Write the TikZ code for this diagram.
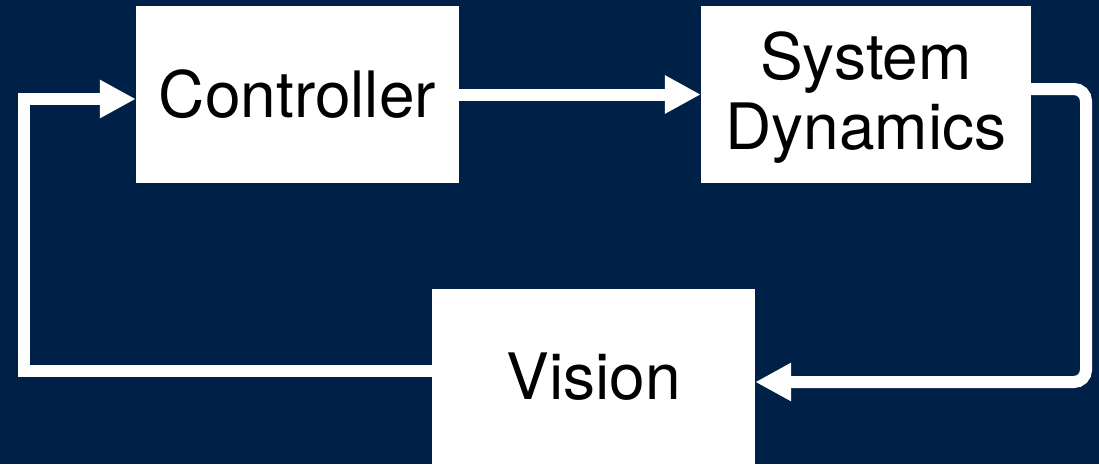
\documentclass[tikz,border=0pt]{standalone}
\usepackage{fontspec}
\setmainfont{TeX Gyre Heros}
\usetikzlibrary{arrows.meta}
\definecolor{bgnavy}{HTML}{002147}
\tikzset{
  blockbox/.style={draw=none, fill=white, text=black, inner sep=0pt, align=center,
    font=\fontsize{64}{70}\selectfont},
  blocktext/.style={inner sep=0pt, text=black, align=center,
    font=\fontsize{64}{70}\selectfont},
  flow/.style={draw=white, line width=12pt, line join=miter,
    -{Triangle[length=36pt,width=36pt]}}
}
\begin{document}
\begin{tikzpicture}[x=1pt,y=1pt]
\fill[bgnavy] (0,0) rectangle (1099,-464);
\useasboundingbox (0,0) rectangle (1099,-464);
\node[blockbox, minimum width=323pt, minimum height=177pt] (ctrl) at (297.5,-94.5) {Controller};
\node[blockbox, minimum width=330pt, minimum height=177pt] (sd) at (866,-94.5) {};
\node[blocktext] (sdtext) at (866,-98) {System\\Dynamics};
\node[blockbox, minimum width=323pt, minimum height=175pt] (vis) at (593.5,-376.5) {Vision};
\coordinate (r1) at (1086,-89);
\coordinate (r2) at (1086,-382);
\coordinate (l1) at (24,-371);
\coordinate (l2) at (24,-99);
\draw[flow] (ctrl.east) -- (sd.west);
\draw[flow, rounded corners=12pt] (sd.east |- r1) -- (r1) -- (r2) -- (vis.east |- r2);
\draw[flow] (vis.west |- l1) -- (l1) -- (l2) -- (ctrl.west |- l2);
\end{tikzpicture}
\end{document}
